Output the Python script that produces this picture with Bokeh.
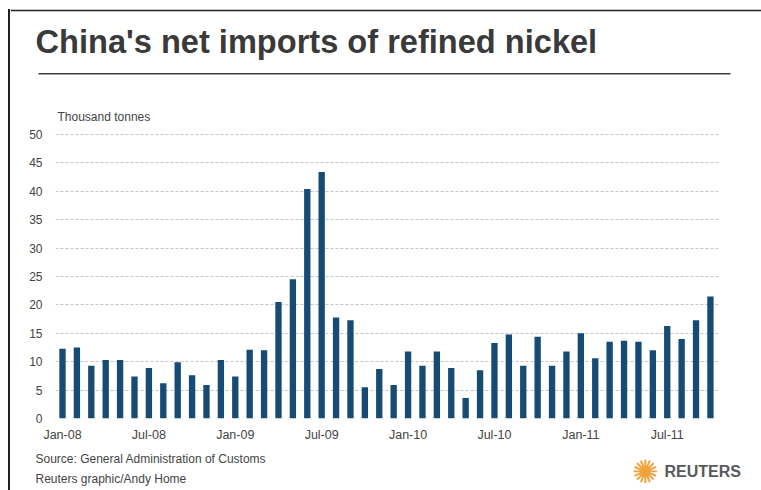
from bokeh.plotting import figure
from bokeh.layouts import column, row
from bokeh.models import ColumnDataSource, FixedTicker, Label, Range1d, Div
from bokeh.embed import file_html
from bokeh.resources import INLINE

# ---- data ----
months = ["Jan-08", "Feb-08", "Mar-08", "Apr-08", "May-08", "Jun-08", "Jul-08", "Aug-08",
          "Sep-08", "Oct-08", "Nov-08", "Dec-08", "Jan-09", "Feb-09", "Mar-09", "Apr-09",
          "May-09", "Jun-09", "Jul-09", "Aug-09", "Sep-09", "Oct-09", "Nov-09", "Dec-09",
          "Jan-10", "Feb-10", "Mar-10", "Apr-10", "May-10", "Jun-10", "Jul-10", "Aug-10",
          "Sep-10", "Oct-10", "Nov-10", "Dec-10", "Jan-11", "Feb-11", "Mar-11", "Apr-11",
          "May-11", "Jun-11", "Jul-11", "Aug-11", "Sep-11", "Oct-11"]
net_imports = [12.3, 12.5, 9.3, 10.3, 10.3, 7.4, 8.9, 6.2, 9.9, 7.6, 5.9, 10.3,
               7.4, 12.1, 12.0, 20.5, 24.5, 40.4, 43.4, 17.8, 17.3, 5.5, 8.7, 5.9,
               11.8, 9.3, 11.8, 8.9, 3.6, 8.5, 13.3, 14.8, 9.3, 14.4, 9.3, 11.8,
               15.0, 10.6, 13.5, 13.7, 13.5, 12.0, 16.3, 14.0, 17.3, 21.5]
tick_labels = ["Jan-08", "Jul-08", "Jan-09", "Jul-09", "Jan-10", "Jul-10", "Jan-11", "Jul-11"]
y_ticks = [0, 5, 10, 15, 20, 25, 30, 35, 40, 45, 50]

title_text = "China's net imports of refined nickel"
unit_text = "Thousand tonnes"
source_text = "Source: General Administration of Customs"
credit_text = "Reuters graphic/Andy Home"

FONT = "Liberation Sans"
TEXT = "#444444"
BORDER = "#222222"
EDGE_W = 10                  # strip holding the left frame line
W = 761 - EDGE_W
TOP_H, CHART_H, BOT_H = 128, 320, 42


def panel(w, h):
    """A plain figure whose frame covers the whole canvas, y pointing down (pixels)."""
    f = figure(width=w, height=h, output_backend="svg", toolbar_location=None, title=None,
               x_range=Range1d(0, w), y_range=Range1d(h, 0),
               x_axis_type=None, y_axis_type=None, min_border=0)
    f.outline_line_color = None
    f.background_fill_color = "white"
    f.border_fill_color = "white"
    return f


def lab(f, x, y, text, size, color=TEXT, bold=False, font=FONT, align="left", baseline="alphabetic"):
    f.add_layout(Label(x=x, y=y, text=text, text_font=font, text_font_size=size,
                       text_color=color, text_font_style="bold" if bold else "normal",
                       text_align=align, text_baseline=baseline))


# ---- left edge: frame line ----
edge = Div(text='<div style="margin-left:8px;margin-top:9px;width:1.6px;height:481px;'
                'background:#222222"></div>', width=EDGE_W, height=490, margin=0)

# ---- top panel: title, rule, unit ----
top = panel(W, TOP_H)
top.segment(x0=[0], y0=[10], x1=[W], y1=[10], line_color=BORDER, line_width=1.6, line_cap="butt")
top.segment(x0=[28], y0=[73.3], x1=[720], y1=[73.3], line_color="#3a3a3a", line_width=1.4)
lab(top, 25, 40.7, title_text, "32.6px", color="#3a3a3a", bold=True)
lab(top, 47, 116, unit_text, "12px")

# ---- chart ----
src = ColumnDataSource(dict(x=list(range(len(months))), top=net_imports, month=months))
p = figure(width=W, height=CHART_H, output_backend="svg", toolbar_location=None, title=None,
           x_range=Range1d(-0.486, 45.56), y_range=Range1d(0, 51.056),
           min_border_left=45, min_border_right=43, min_border_top=0, min_border_bottom=30)
p.outline_line_color = None
p.background_fill_color = "white"
p.border_fill_color = "white"

p.vbar(x="x", top="top", width=0.44, bottom=0, source=src,
       fill_color="#164c74", line_color=None)

ya = p.yaxis[0]
ya.ticker = FixedTicker(ticks=y_ticks)
ya.axis_line_color = None
ya.major_tick_line_color = None
ya.minor_tick_line_color = None
ya.major_tick_out = 0
ya.major_label_standoff = 13
ya.major_label_text_font = FONT
ya.major_label_text_font_size = "12px"
ya.major_label_text_color = TEXT

xa = p.xaxis[0]
tick_pos = [months.index(m) for m in tick_labels]
xa.ticker = FixedTicker(ticks=tick_pos)
xa.major_label_overrides = {i: m for i, m in zip(tick_pos, tick_labels)}
xa.axis_line_color = None
xa.major_tick_line_color = None
xa.minor_tick_line_color = None
xa.major_tick_out = 0
xa.major_label_standoff = 9
xa.major_label_text_font = FONT
xa.major_label_text_font_size = "12.5px"
xa.major_label_text_color = TEXT

p.xgrid.grid_line_color = None
p.ygrid.grid_line_color = "#c4c4c4"
p.ygrid.grid_line_dash = "3 2"
p.ygrid.grid_line_width = 1

# ---- bottom panel: source, credit, logo ----
bot = panel(W, BOT_H)
lab(bot, 25, 10.8, source_text, "12px")
lab(bot, 25, 30.2, credit_text, "12px")
lab(bot, 635, 23, "\u273a", "32px", color="#f0a23c", font="DejaVu Sans", align="center", baseline="middle")
lab(bot, 654, 22.7, "REUTERS", "16px", color="#58595b", bold=True)

layout = row(edge, column(top, row(p, spacing=0), bot, spacing=0), spacing=0)
open("out.html", "w").write(file_html(layout, INLINE))
